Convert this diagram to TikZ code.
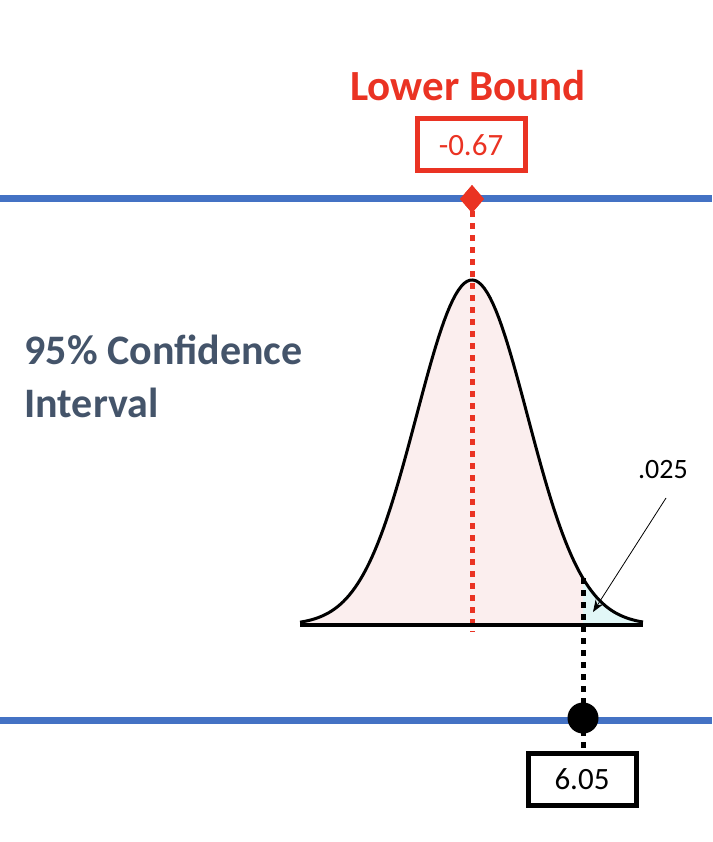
\documentclass[tikz,border=0pt]{standalone}
\usepackage{fontspec}
\setmainfont{Carlito}
\usetikzlibrary{shapes.geometric,arrows.meta}
\definecolor{bandblue}{HTML}{4472C4}
\definecolor{lbred}{HTML}{EA3323}
\definecolor{slate}{HTML}{44546A}
\definecolor{pinkfill}{HTML}{FBEEEE}
\definecolor{cyanfill}{HTML}{E2F7F7}
\tikzset{
  band/.style={bandblue, line width=7pt},
  valbox/.style={draw, line width=5pt, minimum width=108pt, minimum height=52pt, inner sep=0pt, font=\fontsize{31}{36}\selectfont},
  dotline/.style={line width=5pt, dash pattern=on 6pt off 6pt},
}
\begin{document}
\begin{tikzpicture}[x=1pt,y=-1pt]
\useasboundingbox (0,0) rectangle (712,842);
% bell curve fills
\fill[pinkfill] (300,625) -- plot[domain=300:643, samples=120] (\x,{625-345*exp(-((\x-472)/55.5)^2/2)}) -- (643,625) -- cycle;
\fill[cyanfill] (583,625) -- plot[domain=583:643, samples=40] (\x,{625-345*exp(-((\x-472)/55.5)^2/2)}) -- (643,625) -- cycle;
% blue bands
\draw[band] (0,199) -- (712,199);
\draw[band] (0,720) -- (712,720);
% labels
\node[lbred, font=\bfseries\fontsize{43}{50}\selectfont] (lbtitle) at (468,86) {Lower Bound};
\node[valbox, draw=lbred, text=lbred] (lbval) at (471,145) {-0.67};
\node[valbox, draw=black] (ubval) at (582,779) {6.05};
\node[slate, font=\bfseries\fontsize{42}{53}\selectfont, align=left, anchor=north west] (ci) at (21,331) {95\% Confidence\\Interval};
\node[font=\fontsize{28}{32}\selectfont] (tail) at (663,470) {.025};
% markers
\coordinate (redbot) at (472,632);
\coordinate (cutcurve) at (583,578);
\coordinate (tailpt) at (593,612);
\node[diamond, fill=lbred, inner sep=0pt, minimum width=24pt, minimum height=28pt] (dia) at (472,199) {};
% dotted lines
\draw[dotline, lbred] (dia.center) -- (redbot);
\draw[dotline, black] (cutcurve) -- (583,718);
\node[circle, fill=black, inner sep=0pt, minimum size=31pt] (dot) at (583,718) {};
\draw[dotline, black] (dot.center) -- (ubval.north -| dot);
\node[diamond, fill=lbred, inner sep=0pt, minimum width=24pt, minimum height=28pt] at (472,199) {};
% curve
\draw[line width=3pt, line join=round] plot[domain=300:643, samples=120] (\x,{625-345*exp(-((\x-472)/55.5)^2/2)});
\draw[line width=4pt] (300,625) -- (643,625);
% arrow
\draw[-{Stealth[length=12pt,width=9pt]}, line width=0.8pt] (666,498) -- (tailpt);
\end{tikzpicture}
\end{document}
